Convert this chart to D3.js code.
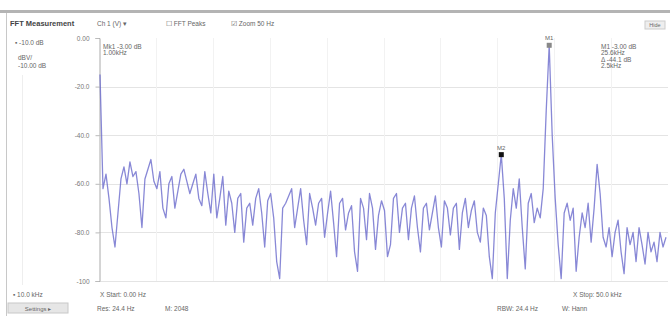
<!DOCTYPE html>
<html>
<head>
<meta charset="utf-8">
<script src="https://cdn.jsdelivr.net/npm/d3@7"></script>
<style>
  html, body { margin: 0; padding: 0; background: #fff; }
  svg { display: block; font-family: "Liberation Sans", Arial, sans-serif; }
</style>
</head>
<body>
<svg id="chart" width="670" height="316"></svg>
<script>
// ---------------------------------------------------------------------------
// Data
// ---------------------------------------------------------------------------
const magnitudeDb = [
  -15, -62, -56, -66, -78, -86, -72, -58, -53, -60, -51, -57, -55, -64, -78, -58,
  -54, -50, -59, -62, -55, -70, -74, -60, -57, -70, -63, -56, -54, -59, -64, -60,
  -56, -66, -69, -55, -64, -72, -56, -74, -66, -57, -77, -63, -68, -80, -66, -64,
  -84, -70, -68, -77, -66, -62, -72, -86, -67, -64, -74, -92, -99, -70, -68, -65,
  -62, -78, -70, -62, -75, -85, -64, -70, -77, -68, -66, -82, -72, -63, -76, -90,
  -68, -66, -79, -72, -69, -88, -96, -66, -70, -83, -64, -70, -87, -73, -67, -71,
  -90, -85, -66, -64, -80, -70, -68, -83, -70, -65, -78, -88, -70, -68, -79, -72,
  -65, -78, -86, -67, -70, -81, -70, -68, -87, -72, -66, -78, -71, -67, -80, -84,
  -70, -73, -90, -99, -72, -60, -48, -66, -99, -75, -62, -70, -58, -78, -95, -68,
  -64, -76, -70, -74, -62, -30, -3, -40, -66, -85, -99, -72, -68, -75, -70, -96,
  -82, -72, -78, -68, -84, -70, -52, -64, -82, -86, -78, -90, -80, -75, -88, -97,
  -78, -85, -80, -92, -78, -85, -93, -80, -88, -84, -92, -80, -86, -82
];
const yTicks = [0, -20, -40, -60, -80, -100];
const yTickLabels = ["0.00", "-20.0", "-40.0", "-60.0", "-80.0", "-100"];
const markerBins = [{ name: "M1", bin: 150 }, { name: "M2", bin: 134 }];

const PLOT = { left: 99, right: 668, top: 38, bottom: 281 };

const svg = d3.select("#chart");

const x = d3.scaleLinear().domain([0, magnitudeDb.length - 1]).range([PLOT.left + 1, 666]);
const y = d3.scaleLinear().domain([0, -100]).range([PLOT.top, PLOT.bottom]);

// ---------------------------------------------------------------------------
// Frame
// ---------------------------------------------------------------------------
svg.append("rect").attr("x", 0).attr("y", 10).attr("width", 670).attr("height", 3).attr("fill", "#b4b4b4");
svg.append("line").attr("x1", 6.5).attr("x2", 6.5).attr("y1", 13).attr("y2", 316).attr("stroke", "#c8c8c8");
svg.append("line").attr("x1", 22.5).attr("x2", 22.5).attr("y1", 75).attr("y2", 285).attr("stroke", "#eeeeee");

// grid
const grid = svg.append("g");
grid.selectAll("line.h").data(yTicks.slice(1)).enter().append("line")
  .attr("x1", PLOT.left).attr("x2", PLOT.right)
  .attr("y1", d => Math.round(y(d)) + 0.5).attr("y2", d => Math.round(y(d)) + 0.5)
  .attr("stroke", "#e4e4e4");
grid.selectAll("line.v").data(d3.range(1, 10)).enter().append("line")
  .attr("x1", d => Math.round(PLOT.left + d * (PLOT.right - PLOT.left) / 10) + 0.5)
  .attr("x2", d => Math.round(PLOT.left + d * (PLOT.right - PLOT.left) / 10) + 0.5)
  .attr("y1", PLOT.top).attr("y2", PLOT.bottom)
  .attr("stroke", "#f2f2f2");

// y axis
const yAxis = d3.axisLeft(y).tickValues(yTicks).tickSize(4)
  .tickFormat((d, i) => yTickLabels[i]);
const ya = svg.append("g").attr("transform", `translate(${PLOT.left + 0.5},0)`).call(yAxis);
ya.select(".domain").attr("stroke", "#aaa");
ya.selectAll(".tick line").attr("stroke", "#bbb");
ya.selectAll(".tick text").attr("font-size", 6.5).attr("fill", "#777").attr("x", -10);

// ---------------------------------------------------------------------------
// Spectrum
// ---------------------------------------------------------------------------
const line = d3.line().x((d, i) => x(i)).y(d => y(d));
svg.append("path").datum(magnitudeDb)
  .attr("d", line)
  .attr("fill", "none")
  .attr("stroke", "#6a6acc")
  .attr("stroke-opacity", 0.8)
  .attr("stroke-width", 1.3)
  .attr("stroke-linejoin", "round");

// markers
markerBins.forEach(m => {
  const mx = x(m.bin), my = y(magnitudeDb[m.bin]);
  svg.append("rect").attr("x", mx - 2.5).attr("y", my - 2.5).attr("width", 5).attr("height", 5)
    .attr("fill", m.name === "M2" ? "#111" : "#888");
  svg.append("text").attr("x", mx).attr("y", my - 5).attr("text-anchor", "middle")
    .attr("font-size", 6).attr("fill", "#666").text(m.name);
});

// ---------------------------------------------------------------------------
// Text
// ---------------------------------------------------------------------------
function label(tx, ty, s, opts = {}) {
  svg.append("text").attr("x", tx).attr("y", ty)
    .attr("font-size", opts.size || 6.5)
    .attr("font-weight", opts.bold ? "bold" : null)
    .attr("fill", opts.fill || "#666")
    .attr("text-anchor", opts.anchor || "start")
    .text(s);
}

label(10, 26, "FFT Measurement", { bold: true, size: 7.5, fill: "#444" });
label(97, 26, "Ch 1 (V) ▾");
label(166, 26, "☐ FFT Peaks");
label(231, 26, "☑ Zoom  50 Hz");
svg.append("rect").attr("x", 645).attr("y", 21).attr("width", 20).attr("height", 8)
  .attr("fill", "#eee").attr("stroke", "#ccc");
label(655, 27, "Hide", { size: 5.5, anchor: "middle" });

label(15, 45, "▪  -10.0 dB");
label(18, 60, "dBV/");
label(18, 68, "-10.00 dB");

label(103, 49, "Mk1 -3.00 dB");
label(103, 55, "1.00kHz");
label(601, 49, "M1 -3.00 dB");
label(601, 55, "25.6kHz");
label(601, 62, "Δ -44.1 dB");
label(601, 68, "2.5kHz");

label(13, 297, "▪  10.0 kHz");
label(100, 297, "X  Start: 0.00 Hz");
label(573, 297, "X  Stop: 50.0 kHz");

svg.append("rect").attr("x", 8).attr("y", 303).attr("width", 60).attr("height", 10)
  .attr("fill", "#e6e6e6").attr("stroke", "#c8c8c8");
label(38, 311, "Settings ▸", { anchor: "middle", size: 6 });
label(97, 311, "Res: 24.4 Hz");
label(165, 311, "M: 2048");
label(497, 311, "RBW: 24.4 Hz");
label(562, 311, "W: Hann");
</script>
</body>
</html>
